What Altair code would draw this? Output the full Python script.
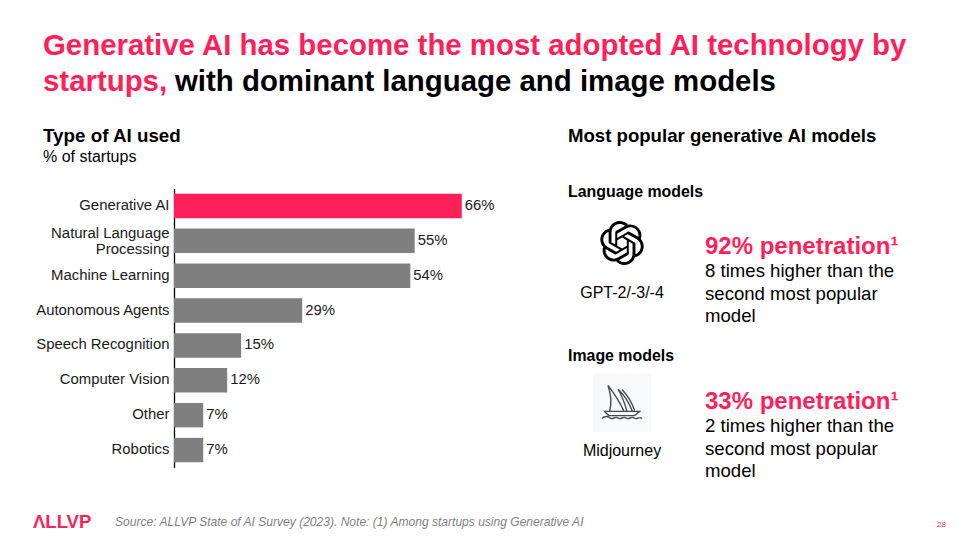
import altair as alt
import pandas as pd

categories = ["Generative AI", "Natural Language|Processing", "Machine Learning", "Autonomous Agents",
              "Speech Recognition", "Computer Vision", "Other", "Robotics"]
values = [66, 55.2, 54.2, 29.4, 15.4, 12.2, 6.7, 6.7]
highlight = [True, False, False, False, False, False, False, False]

PINK = "#ff1f5a"
GRAY = "#7f7f7f"
INK = "#000000"
FONT = "Liberation Sans"
OFF = 8  # page margin


def px(v):
    return alt.value(v - OFF)


def txt(s, x, y, size, color=INK, bold=False, italic=False, align="left"):
    return alt.Chart(alt.Data(values=[{"t": s}])).mark_text(
        font=FONT, fontSize=size, color=color, align=align, baseline="alphabetic",
        fontWeight="bold" if bold else "normal", fontStyle="italic" if italic else "normal",
    ).encode(text="t:N", x=px(x), y=px(y))


df = pd.DataFrame({"c": categories, "v": values, "h": highlight})
df["label"] = df["v"].round().astype(int).astype(str) + "%"

x_scale = alt.Scale(domain=[0, 100], range=[174 - OFF, 174 - OFF + 436])
y_scale = alt.Scale(domain=categories, range=[188.5 - OFF, 467.5 - OFF], paddingInner=0.3, paddingOuter=0.15)

base = alt.Chart(df)
bars = base.mark_bar().encode(
    x=alt.X("v:Q", scale=x_scale, axis=None),
    y=alt.Y("c:N", scale=y_scale, sort=categories, title=None,
            axis=alt.Axis(orient="left", offset=-(174 - OFF), ticks=False, domainColor="#000000", domainWidth=1.3,
                          labelExpr="split(datum.label, '|')", labelFont=FONT, labelFontSize=14.9,
                          labelColor="#1a1a1a", labelPadding=5, labelLineHeight=16, labelLimit=300, grid=False,
                          labelOffset={"condition": {"test": "indexof(datum.value, '|') >= 0", "value": -7}, "value": 0})),
    color=alt.Color("h:N", scale=alt.Scale(domain=[True, False], range=[PINK, GRAY]), legend=None),
)
labels = base.mark_text(align="left", baseline="middle", dx=3, font=FONT, fontSize=14.9, color="#1a1a1a").encode(
    x=alt.X("v:Q", scale=x_scale), y=alt.Y("c:N", scale=y_scale, sort=categories), text="label:N")

OPENAI = ("M10.2819-2.1789a5.9847 5.9847 0 0 0-.5157-4.9108 6.0462 6.0462 0 0 0-6.5098-2.9A6.0651 6.0651 0 0 0-7.0193-7.8182"
          "a5.9847 5.9847 0 0 0-3.9977 2.9 6.0462 6.0462 0 0 0 .7427 7.0966 5.98 5.98 0 0 0 .511 4.9107 6.051 6.051 0 0 0 6.5146 2.9001"
          "A5.9847 5.9847 0 0 0 1.2599 12a6.0557 6.0557 0 0 0 5.7718-4.2058 5.9894 5.9894 0 0 0 3.9977-2.9001 6.0557 6.0557 0 0 0-.7475-7.0729z"
          "m-9.022 12.6081a4.4755 4.4755 0 0 1-2.8764-1.0408l.1419-.0804 4.7783-2.7582a.7948.7948 0 0 0 .3927-.6813v-6.7369l2.02 1.1686a.071.071 0 0 1 .038.052v5.5826a4.504 4.504 0 0 1-4.4945 4.4944z"
          "m-9.6607-4.1254a4.4708 4.4708 0 0 1-.5346-3.0137l.142.0852 4.783 2.7582a.7712.7712 0 0 0 .7806 0l5.8428-3.3685v2.3324a.0804.0804 0 0 1-.0332.0615L-2.26 7.9502a4.4992 4.4992 0 0 1-6.1408-1.6464z"
          "M-9.6592-4.1044a4.485 4.485 0 0 1 2.3655-1.9728V-.4a.7664.7664 0 0 0 .3879.6765l5.8144 3.3543-2.0201 1.1685a.0757.0757 0 0 1-.071 0l-4.8303-2.7865A4.504 4.504 0 0 1-9.6592-4.128z"
          "m16.5963 3.8558L1.1038-3.636 3.1192-4.8a.0757.0757 0 0 1 .071 0l4.8303 2.7913a4.4944 4.4944 0 0 1-.6765 8.1042v-5.6772a.79.79 0 0 0-.407-.667z"
          "m2.0107-3.0231l-.142-.0852-4.7735-2.7818a.7759.7759 0 0 0-.7854 0L-2.591-2.7703V-5.1026a.0662.0662 0 0 1 .0284-.0615l4.8303-2.7866a4.4992 4.4992 0 0 1 6.6802 4.66z"
          "M-3.6935.863l-2.02-1.1638a.0804.0804 0 0 1-.038-.0567V-5.9258a4.4992 4.4992 0 0 1 7.3757-3.4537l-.142.0805L-3.296-6.541a.7948.7948 0 0 0-.3927.6813z"
          "m1.0976-2.3654l2.602-1.4998 2.6069 1.4998v2.9994l-2.5974 1.4997-2.6067-1.4997Z")
openai = alt.Chart(alt.Data(values=[{}])).mark_point(shape=OPENAI, size=13.4, filled=True, fill="#000000", stroke=None, opacity=1).encode(
    x=px(622), y=px(243))

SAIL = ("M-.7-.83C-.45-.5-.15-.1 .1 .47L-.62 .47C-.52 .1-.55-.4-.7-.83Z"
        "M-.2-.65C.1-.35 .35 0 .52 .47M-.2-.65C0-.3 .15 .1 .25 .47"
        "M0-.62C.25-.35 .48 0 .63 .42"
        "M-.87 .47L.88 .47L.63 .68L-.67 .68Z"
        "M-1 .82C-.85 .68-.75 .68-.6 .8C-.45 .92-.35 .68-.2 .8C-.05 .92 .05 .68 .2 .8C.35 .92 .45 .68 .6 .8C.75 .92 .85 .68 1 .82")
mj_bg = alt.Chart(alt.Data(values=[{}])).mark_rect(color="#f8f9fb").encode(
    x=px(593), x2=px(651), y=px(373), y2=px(432))
mj = alt.Chart(alt.Data(values=[{}])).mark_point(shape=SAIL, size=1600, filled=False, stroke="#4a4a4a", strokeWidth=1.4, opacity=1).encode(
    x=px(622), y=px(402))

texts = [
    txt("Generative AI has become the most adopted AI technology by", 43, 55, 29.4, PINK, True),
    txt("startups,", 43, 91, 29.4, PINK, True),
    txt("with dominant language and image models", 175, 91, 29.4, INK, True),
    txt("Type of AI used", 43, 142, 18.8, INK, True),
    txt("% of startups", 43, 162, 16),
    txt("Most popular generative AI models", 568, 142, 18.6, INK, True),
    txt("Language models", 568, 197, 15.9, INK, True),
    txt("GPT-2/-3/-4", 622, 298, 16, align="center"),
    txt("92% penetration¹", 705, 254, 24, PINK, True),
    txt("8 times higher than the", 705, 277, 18.6),
    txt("second most popular", 705, 300, 18.6),
    txt("model", 705, 322, 18.6),
    txt("Image models", 568, 361, 15.9, INK, True),
    txt("Midjourney", 622, 456, 16, align="center"),
    txt("33% penetration¹", 705, 409, 24, PINK, True),
    txt("2 times higher than the", 705, 432, 18.6),
    txt("second most popular", 705, 455, 18.6),
    txt("model", 705, 477, 18.6),
    txt("ΛLLVP", 33, 528, 18.5, PINK, True),
    txt("Source: ALLVP State of AI Survey (2023). Note: (1) Among startups using Generative AI", 115, 526, 12.05, GRAY, italic=True),
    txt("28", 937, 527, 8, PINK),
]

chart = alt.layer(bars, labels, openai, mj_bg, mj, *texts).resolve_scale(color="independent").properties(
    width=941, height=524, padding=0, autosize=alt.AutoSizeParams(type="none"),
    background="#ffffff",
).configure_view(stroke=None)

chart.save("out.html", embed_options={"renderer": "svg", "actions": False})
